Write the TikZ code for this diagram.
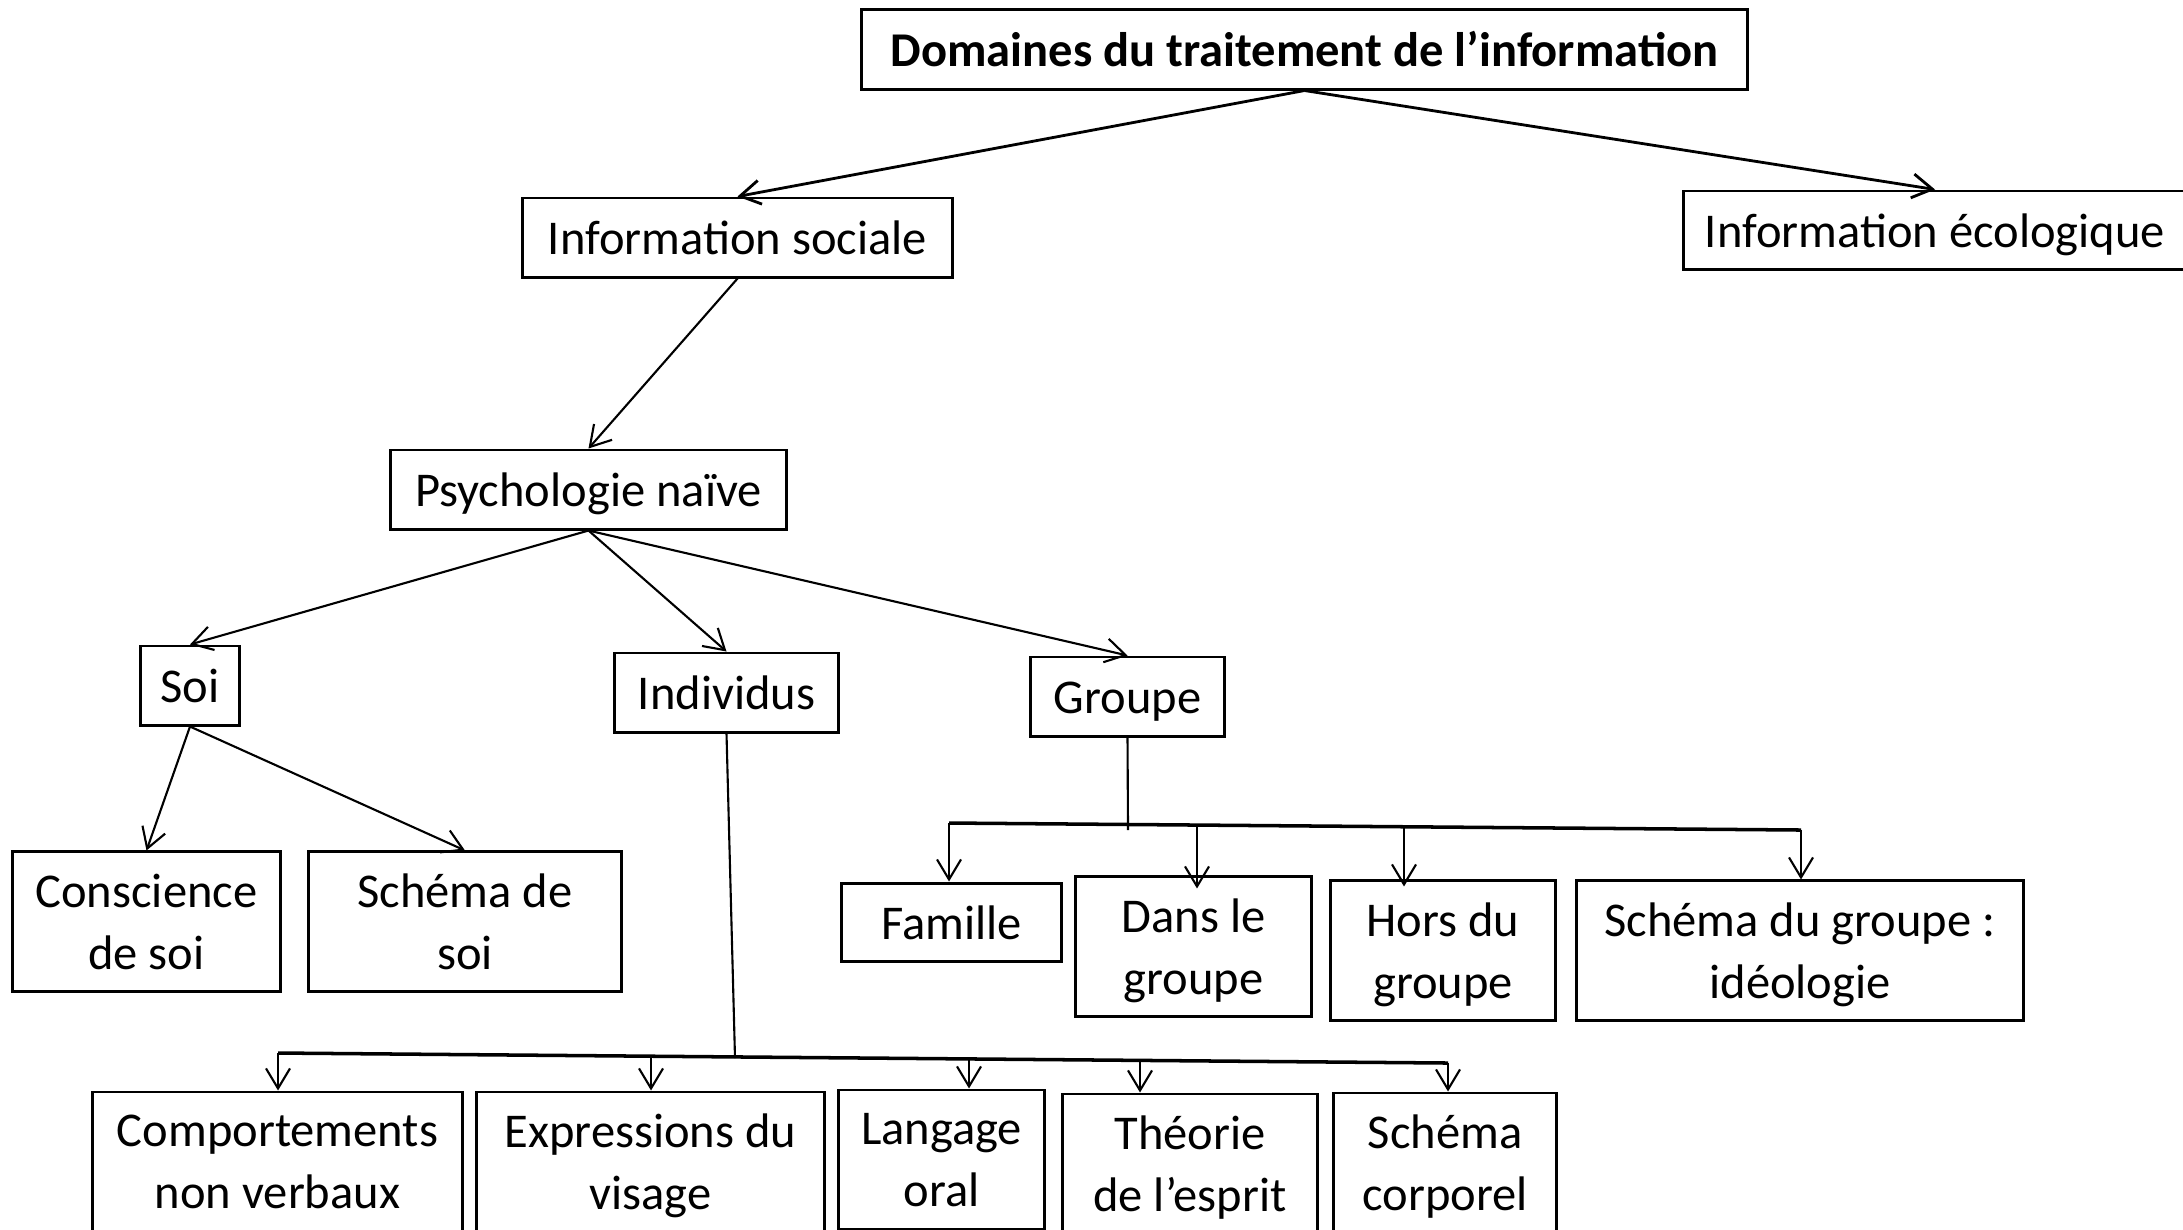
\documentclass[tikz,border=0pt]{standalone}
\usepackage{fontspec}
\setmainfont{Carlito}
\usetikzlibrary{arrows.meta,calc}

\begin{document}
\begin{tikzpicture}[x=0.01cm,y=-0.01cm,
  >={Straight Barb[length=0.2cm,width=0.24cm]},
  cadre/.style={draw, line width=0.85pt, inner sep=0pt, align=center,
    minimum height=0.79cm, font=\fontsize{13.8}{17.6}\selectfont},
  simple/.style={cadre, text height=9.8pt, text depth=0pt},
  haut/.style={cadre, minimum height=1.39cm, text depth=0pt},
  fleche/.style={->, line width=0.6pt},
  barre/.style={line width=1pt}]
  \useasboundingbox (0,0) rectangle (2183,1229);
  \clip (0,0) rectangle (2183,1229);

  \node[simple, minimum width=8.85cm, font=\fontsize{13.8}{17.6}\selectfont\bfseries] (dom) at (1304.5,49.5) {Domaines du traitement de l’information};
  \node[simple, minimum width=4.29cm] (soc) at (737.5,237.5) {Information sociale};
  \node[simple, minimum width=5.02cm, minimum height=0.78cm] (eco) at (1935,230) {Information écologique};
  \node[simple, minimum width=3.95cm] (psy) at (588.5,489.5) {Psychologie naïve};

  \node[simple, minimum width=0.98cm] (soi) at (190,685.5) {Soi};
  \node[simple, minimum width=2.23cm] (ind) at (726.5,692.5) {Individus};
  \node[simple, minimum width=1.93cm] (grp) at (1127.5,696.5) {Groupe};

  \node[haut, minimum width=2.67cm] (csoi) at (146.5,921.5) {Conscience\\de soi};
  \node[haut, minimum width=3.12cm] (ssoi) at (465,921.5) {Schéma de\\soi};

  \node[simple, minimum width=2.19cm, minimum height=0.78cm] (fam) at (951.5,922) {Famille};
  \node[haut, minimum width=2.35cm] (dans) at (1193.5,946.5) {Dans le\\groupe};
  \node[haut, minimum width=2.24cm] (hors) at (1443,950.5) {Hors du\\groupe};
  \node[haut, minimum width=4.46cm] (sgrp) at (1800,950.5) {Schéma du groupe :\\idéologie};

  \node[haut, minimum width=3.69cm] (comp) at (277.5,1161.5) {Comportements\\non verbaux};
  \node[haut, minimum width=3.47cm] (expr) at (650.5,1161.5) {Expressions du\\visage};
  \node[haut, minimum width=2.05cm] (lang) at (941.5,1159.5) {Langage\\oral};
  \node[haut, minimum width=2.54cm] (theo) at (1190,1163.5) {Théorie\\de l’esprit};
  \node[haut, minimum width=2.22cm] (scorp) at (1445,1162.5) {Schéma\\corporel};

  \path[fleche, line width=0.8pt]
    (dom.south)	edge (soc.north)
	    edge (eco.north);
  \path[fleche]
    (soc.south)	edge (psy.north)
    (psy.south)	edge (soi.north)
	    edge (ind.north)
	    edge (grp.north)
    (soi.south)	edge (csoi.north)
	    edge (ssoi.north);

  % barre du groupe
  \coordinate (g1) at (949,823);
  \coordinate (g2) at (1197,825);
  \coordinate (g3) at (1404,827);
  \coordinate (g4) at (1801,830);
  \coordinate (gm) at (1128,830);
  \draw[barre] (g1) -- (g4);
  \draw[line width=0.6pt] (grp.south) -- (gm);
  \foreach \c/\n/\s in {g1/fam/0, g2/dans/13, g3/hors/7, g4/sgrp/0}
    \draw[fleche] (\c) -- ($(\c |- \n.north)+(0,\s)$);

  % barre des individus
  \coordinate (i1) at (278,1053);
  \coordinate (i2) at (651,1056);
  \coordinate (i3) at (969,1059);
  \coordinate (i4) at (1140,1060);
  \coordinate (i5) at (1448,1063);
  \coordinate (im) at (735,1058);
  \draw[barre] (i1) -- (i5);
  \draw[line width=0.6pt] (ind.south) -- (im);
  \foreach \c/\n in {i1/comp, i2/expr, i3/lang, i4/theo, i5/scorp}
    \draw[fleche] (\c) -- (\c |- \n.north);

\end{tikzpicture}
\end{document}
